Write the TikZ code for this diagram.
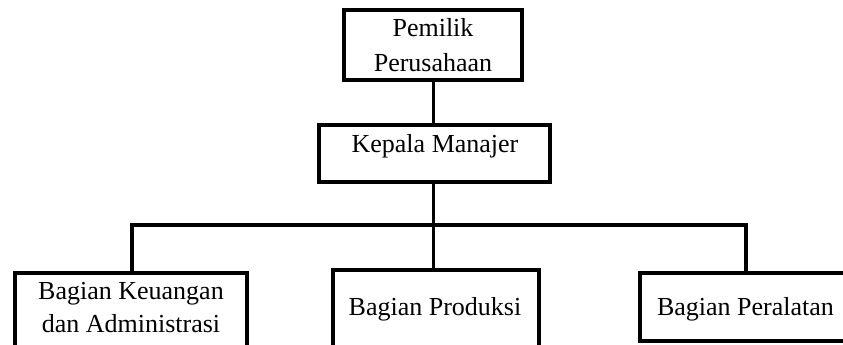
\documentclass[tikz,border=0pt]{standalone}
\usepackage{fontspec}
\setmainfont{Liberation Serif}
\begin{document}
\begin{tikzpicture}[x=1pt,y=-1pt,
  orgbox/.style={draw=black,line width=4pt,rectangle,anchor=north west,inner sep=0pt,outer sep=0pt},
  lbl/.style={anchor=base,inner sep=0pt,font=\fontsize{26}{33}\selectfont},
  conn/.style={draw=black,line width=3.6pt}]
\useasboundingbox (0,0) rectangle (843,345);
\clip (0,0) rectangle (843,345);
% boxes
\node[orgbox,minimum width=178pt,minimum height=70pt] (p) at (344,10) {};
\node[orgbox,minimum width=231pt,minimum height=57pt] (k) at (319,125) {};
\node[orgbox,minimum width=232pt,minimum height=80pt] (l) at (15,273) {};
\node[orgbox,minimum width=206pt,minimum height=83pt] (m) at (333,270) {};
\node[orgbox,minimum width=220pt,minimum height=68pt] (r) at (640,273) {};
% texts
\node[lbl] (p1) at (433,37) {Pemilik};
\node[lbl] (p2) at (433,71) {Perusahaan};
\node[lbl] (k1) at (435,152) {Kepala Manajer};
\node[lbl] (l1) at (131,299) {Bagian Keuangan};
\node[lbl] (l2) at (131,332) {dan Administrasi};
\node[lbl] (m1) at (435,315) {Bagian Produksi};
\node[lbl] (r1) at (745.5,315) {Bagian Peralatan};
% connectors
\coordinate (b1) at (132,225);
\coordinate (b3) at (746,225);
\coordinate (t) at (433.5,225);
\draw[conn] (t |- p.south) -- (t |- k.north);
\draw[conn] (t |- k.south) -- (t |- m.north);
\draw[conn] ([xshift=-1.8pt]b1) -- ([xshift=1.8pt]b3);
\draw[conn] (b1) -- (b1 |- l.north);
\draw[conn] (b3) -- (b3 |- r.north);
\end{tikzpicture}
\end{document}
